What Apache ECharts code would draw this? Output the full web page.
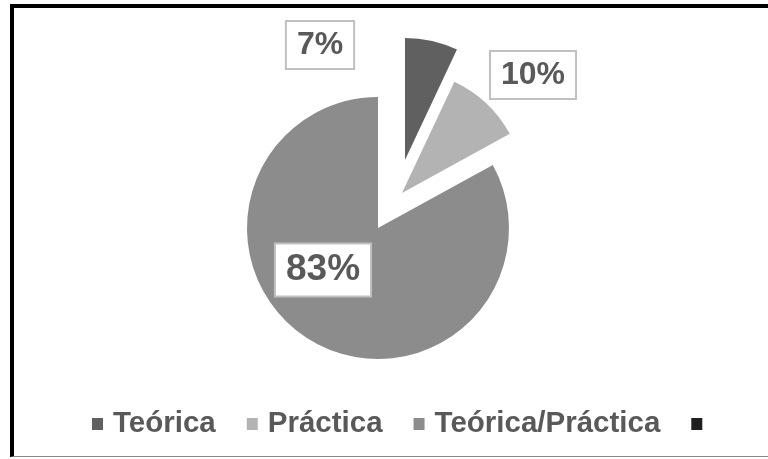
<!DOCTYPE html>
<html>
<head>
<meta charset="utf-8">
<script src="https://cdn.jsdelivr.net/npm/echarts@6/dist/echarts.min.js"></script>
<style>
  html, body { margin: 0; padding: 0; background: #fff; }
  #wrap { position: relative; width: 768px; height: 459px; overflow: hidden; }
  #frame { position: absolute; left: 10px; top: 4px; width: 800px; height: 448px;
           border-left: 4px solid #000; border-top: 4px solid #000; border-bottom: 1px solid #8a8a8a; }
  #chart { position: absolute; left: 0; top: 0; width: 768px; height: 459px; }
</style>
</head>
<body>
<div id="wrap">
  <div id="frame"></div>
  <div id="chart"></div>
</div>
<script>
// ---- data ----
const categories = ['Teórica', 'Práctica', 'Teórica/Práctica', ' '];
const values = [7, 10, 83, 0];

// ---- presentation ----
const palette = ['#606060', '#b3b3b3', '#8c8c8c', '#1f1f1f'];
const sliceLayout = [
  { center: [405, 160], radius: 122, label: [320, 45], fontSize: 32, padding: [7, 10] },
  { center: [402, 193], radius: 123, label: [533, 75], fontSize: 32, padding: [7, 10] },
  { center: [378, 228], radius: 131, label: [323, 270], fontSize: 37, padding: [7, 10] }
];

const series = sliceLayout.map(function (lay, k) {
  return {
    type: 'pie',
    center: lay.center,
    radius: lay.radius,
    startAngle: 90,
    clockwise: true,
    avoidLabelOverlap: false,
    emphasis: { disabled: true },
    labelLine: { show: false },
    label: {
      position: 'inside',
      formatter: '{c}%',
      color: '#595959',
      fontWeight: 'bold',
      fontFamily: 'Liberation Sans, Arial, sans-serif',
      fontSize: lay.fontSize,
      lineHeight: lay.fontSize,
      backgroundColor: '#ffffff',
      borderColor: '#c0c0c0',
      borderWidth: 2,
      padding: lay.padding
    },
    labelLayout: function () {
      return { x: lay.label[0], y: lay.label[1], align: 'center', verticalAlign: 'middle' };
    },
    data: categories.map(function (name, i) {
      return {
        name: name,
        value: values[i],
        itemStyle: { color: i === k ? palette[i] : 'rgba(0,0,0,0)' },
        label: { show: i === k && values[i] > 0 }
      };
    })
  };
});

const chart = echarts.init(document.getElementById('chart'), null, { renderer: 'canvas' });
chart.setOption({
  animation: false,
  color: palette,
  legend: {
    left: 87,
    top: 404,
    icon: 'rect',
    itemWidth: 11,
    itemHeight: 12,
    itemGap: 31,
    selectedMode: false,
    textStyle: {
      color: '#595959',
      fontWeight: 'bold',
      fontFamily: 'Liberation Sans, Arial, sans-serif',
      fontSize: 29.5,
      padding: [0, 0, 0, 5]
    },
    data: categories.map(function (name, i) {
      return { name: name, itemStyle: { color: palette[i] } };
    })
  },
  series: series
});
</script>
</body>
</html>
